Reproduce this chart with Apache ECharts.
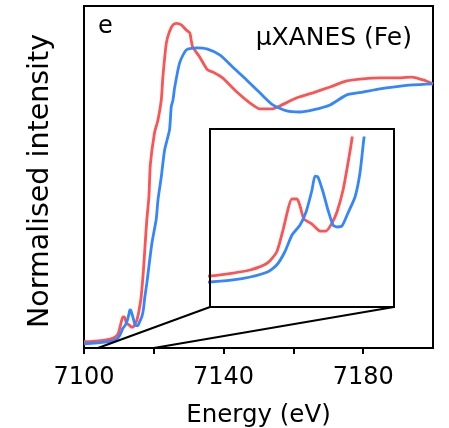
<!DOCTYPE html>
<html>
<head>
<meta charset="utf-8">
<script src="https://cdn.jsdelivr.net/npm/echarts@6/dist/echarts.min.js"></script>
<style>html,body{margin:0;padding:0;background:#fff;}#c{width:449px;height:428px;}</style>
</head>
<body>
<div id="c"></div>
<script>
// Energy axis ticks
const xTicks = [7100, 7120, 7140, 7160, 7180, 7200];
// Red spectrum
const redEnergy = [7100, 7102, 7104.0, 7106.0, 7107.5, 7109.0, 7109.8, 7110.35, 7111.13, 7111.57, 7111.83, 7112.17, 7112.87, 7113.57, 7114.09, 7114.61, 7115.04, 7115.57, 7116.0, 7116.35, 7117.0, 7117.5, 7118.0, 7118.6, 7119.0, 7120.2, 7121.2, 7122.15, 7122.6, 7123.6, 7124.5, 7125.5, 7126.5, 7127.9, 7129.3, 7130.3, 7131.1, 7133.1, 7135.4, 7136.9, 7139.7, 7143.8, 7147.5, 7150.4, 7154.1, 7156.1, 7161.0, 7165.6, 7170.5, 7175.3, 7179.9, 7184.8, 7190.5, 7193.9, 7197.9, 7200];
const redIntensity = [0.024, 0.025, 0.0267, 0.0302, 0.0338, 0.0421, 0.0551, 0.0811, 0.1178, 0.1178, 0.1095, 0.0941, 0.0882, 0.0799, 0.0799, 0.0894, 0.1024, 0.1285, 0.1604, 0.19, 0.29, 0.39, 0.487, 0.575, 0.696, 0.8175, 0.867, 0.943, 1.03, 1.16, 1.203, 1.228, 1.234, 1.228, 1.209, 1.198, 1.146, 1.107, 1.057, 1.049, 1.027, 0.973, 0.932, 0.909, 0.909, 0.92, 0.951, 0.970, 0.992, 1.015, 1.023, 1.027, 1.027, 1.030, 1.016, 1.004];
// Blue spectrum
const blueEnergy = [7100, 7102, 7104.0, 7106.0, 7107.5, 7109.0, 7109.8, 7110.5, 7111.13, 7111.83, 7112.35, 7112.87, 7113.13, 7113.39, 7113.83, 7114.26, 7114.7, 7115.04, 7115.48, 7116.0, 7116.61, 7117.04, 7117.39, 7118.0, 7119.45, 7120.7, 7121.2, 7122.15, 7123.1, 7124.5, 7125.0, 7125.5, 7126.0, 7127.4, 7129.3, 7132.3, 7135.2, 7138.9, 7142.6, 7146.6, 7150.4, 7154.1, 7158.1, 7161.8, 7165.6, 7170.5, 7175.3, 7179.9, 7184.8, 7188.5, 7194.3, 7200];
const blueIntensity = [0.016, 0.018, 0.0196, 0.0220, 0.0255, 0.0314, 0.0397, 0.0551, 0.0752, 0.0870, 0.1024, 0.1285, 0.1450, 0.1438, 0.1261, 0.1048, 0.0870, 0.0847, 0.0859, 0.1012, 0.1202, 0.1486, 0.19, 0.246, 0.398, 0.49, 0.563, 0.651, 0.753, 0.829, 0.917, 0.943, 0.992, 1.084, 1.133, 1.141, 1.137, 1.114, 1.068, 1.019, 0.970, 0.924, 0.901, 0.897, 0.905, 0.924, 0.962, 0.973, 0.985, 0.992, 1.000, 1.004];
// Zoomed (inset) window
const insetEnergyRange = [7104, 7120];
const insetIntensityRange = [-0.01, 0.19];

const redColor = '#ff5252';
const blueColor = '#3386ff';
const font = 'DejaVu Sans';

const pairs = (xs, ys) => xs.map((x, i) => [x, ys[i]]);
const redData = pairs(redEnergy, redIntensity);
const blueData = pairs(blueEnergy, blueIntensity);

// inset layout
const inset = {left: 210, top: 138, width: 184, height: 169, boxTop: 129};

const chart = echarts.init(document.getElementById('c'), null, {renderer: 'canvas'});
const lineStyle = (c) => ({color: c, width: 2.8});
chart.setOption({
  animation: false,
  backgroundColor: '#fff',
  title: [
    {text: 'e', left: 98, top: 15, textStyle: {fontFamily: font, fontSize: 24, fontWeight: 'normal', color: '#000'}, padding: 0},
    {text: 'μXANES (Fe)', right: 37, top: 26, textStyle: {fontFamily: font, fontSize: 25, fontWeight: 'normal', color: '#000'}, padding: 0}
  ],
  grid: [
    {left: 84, right: 16, top: 6, bottom: 80, show: true, borderColor: '#000', borderWidth: 2, backgroundColor: 'transparent', containLabel: false, outerBoundsMode: 'none'},
    {left: inset.left, top: inset.top, width: inset.width, height: inset.height, show: false, containLabel: false, outerBoundsMode: 'none'}
  ],
  xAxis: [
    {type: 'value', gridIndex: 0, min: xTicks[0], max: xTicks[xTicks.length - 1], interval: xTicks[1] - xTicks[0],
     name: 'Energy (eV)', nameLocation: 'middle', nameGap: 55,
     nameTextStyle: {fontFamily: font, fontSize: 24.5, color: '#000'},
     axisLine: {show: true, lineStyle: {color: '#000', width: 2}},
     axisTick: {show: true, inside: false, length: 6, lineStyle: {color: '#000', width: 2}},
     axisLabel: {interval: 1, showMaxLabel: false, margin: 18, fontFamily: font, fontSize: 24, color: '#000',
       formatter: (v) => ((v - xTicks[0]) % 40 === 0 ? String(v) : '')},
     splitLine: {show: false}},
    {type: 'value', gridIndex: 1, min: insetEnergyRange[0], max: insetEnergyRange[1], show: false}
  ],
  yAxis: [
    {type: 'value', gridIndex: 0, min: 0, max: 1.3,
     name: 'Normalised intensity', nameLocation: 'middle', nameGap: 29,
     nameTextStyle: {fontFamily: font, fontSize: 28.5, color: '#000', padding: [0, 8, 0, 0]},
     axisLine: {show: true, lineStyle: {color: '#000', width: 2}},
     axisTick: {show: false}, axisLabel: {show: false}, splitLine: {show: false}},
    {type: 'value', gridIndex: 1, min: insetIntensityRange[0], max: insetIntensityRange[1], show: false}
  ],
  series: [
    {type: 'line', name: 'red', xAxisIndex: 0, yAxisIndex: 0, data: redData, showSymbol: false, smooth: 0.2, lineStyle: lineStyle(redColor), z: 3},
    {type: 'line', name: 'blue', xAxisIndex: 0, yAxisIndex: 0, data: blueData, showSymbol: false, smooth: 0.2, lineStyle: lineStyle(blueColor), z: 4},
    {type: 'line', name: 'red (zoom)', xAxisIndex: 1, yAxisIndex: 1, data: redData, showSymbol: false, smooth: 0.2, lineStyle: lineStyle(redColor), z: 3},
    {type: 'line', name: 'blue (zoom)', xAxisIndex: 1, yAxisIndex: 1, data: blueData, showSymbol: false, smooth: 0.2, lineStyle: lineStyle(blueColor), z: 4}
  ]
});

// Inset frame and connector lines (computed from the axes)
const pL = chart.convertToPixel({gridIndex: 0}, [insetEnergyRange[0], 0]);
const pR = chart.convertToPixel({gridIndex: 0}, [insetEnergyRange[1], 0]);
const bx0 = inset.left, bx1 = inset.left + inset.width, by0 = inset.boxTop, by1 = inset.top + inset.height;
chart.setOption({
  graphic: [
    {type: 'rect', shape: {x: bx0, y: by0, width: bx1 - bx0, height: by1 - by0}, style: {fill: 'none', stroke: '#000', lineWidth: 2}, z: 10},
    {type: 'line', shape: {x1: bx0, y1: by1, x2: pL[0], y2: pL[1]}, style: {stroke: '#000', lineWidth: 2}, z: 10},
    {type: 'line', shape: {x1: bx1, y1: by1, x2: pR[0], y2: pR[1]}, style: {stroke: '#000', lineWidth: 2}, z: 10}
  ]
});
</script>
</body>
</html>
